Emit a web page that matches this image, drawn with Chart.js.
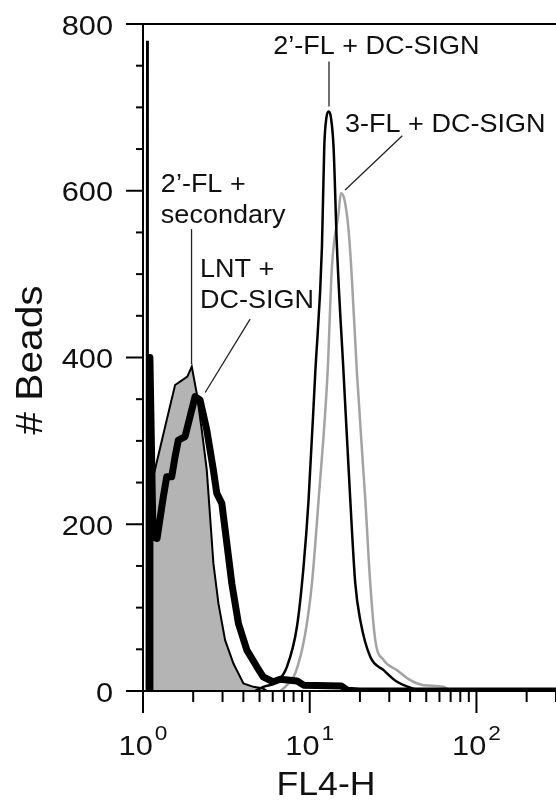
<!DOCTYPE html>
<html>
<head>
<meta charset="utf-8">
<script src="https://cdn.jsdelivr.net/npm/chart.js"></script>
<style>
  html, body { margin: 0; padding: 0; background: #fff; }
  #wrap { width: 556px; height: 800px; }
</style>
</head>
<body>
<div id="wrap"><canvas id="histChart" width="556" height="800"></canvas></div>
<script>
// FL4-H histogram: bead counts per fluorescence channel

// axis ranges and ticks
const xRange = [1, 300];
const yRange = [0, 800];
const xMajorTicks = [1, 10, 100];
const xMinorTicks = [2, 3, 4, 5, 6, 7, 8, 9, 20, 30, 40, 50, 60, 70, 80, 90, 200, 300];
const yMajorTicks = [0, 200, 400, 600, 800];
const yMinorTicks = [50, 100, 150, 250, 300, 350, 450, 500, 550, 650, 700, 750];
const xTickPowers = ['0', '1', '2'];

// 2'-FL + secondary (grey filled)
const secondaryX = [1.05, 1.057, 1.07, 1.153, 1.324, 1.557, 1.668, 1.845, 1.961, 2.101, 2.252, 2.413, 2.526, 2.644, 2.834, 3.108, 3.486, 4.004, 4.598, 5.25, 5.56];
const secondaryY = [0, 780, 260, 257, 308, 367, 371, 377, 389, 357, 313, 265, 209, 153, 105, 61, 33, 9, 5, 3, 0];

// LNT + DC-SIGN (thick black)
const lntX = [1.10, 1.10, 1.148, 1.214, 1.324, 1.388, 1.487, 1.557, 1.630, 1.787, 1.915, 2.053, 2.199, 2.413, 2.644, 2.771, 2.970, 3.183, 3.410, 3.736, 4.197, 4.819, 5.26, 6.04, 6.65, 8.4, 9.2, 15.5, 16.8, 20, 300];
const lntY = [0, 400, 185, 183, 233, 257, 257, 281, 301, 305, 329, 353, 349, 313, 265, 237, 225, 177, 129, 81, 49, 29, 17, 11, 14, 12, 7, 6, 1, 0, 0];

// 2'-FL + DC-SIGN (thin black)
const fl2X = [4.71, 5.28, 6.35, 7.30, 8.38, 9.18, 9.84, 10.79, 11.84, 12.22, 12.6, 13.0, 13.4, 13.9, 14.56, 15.96, 17.51, 18.76, 20.1, 23.07, 27.75, 33.4, 40.1, 46.1];
const fl2Y = [0, 5, 11, 29, 77, 149, 229, 381, 533, 652, 688, 695, 688, 652, 533, 381, 229, 129, 85, 41, 25, 11, 4, 0];

// 3-FL + DC-SIGN (grey line)
const fl3X = [6.65, 7.30, 8.18, 9.40, 10.31, 11.30, 12.79, 13.59, 14.89, 15.39, 16.12, 17.10, 17.92, 19.2, 21.55, 23.07, 24.73, 27.75, 33.4, 40.1, 48.2, 63.4, 69.8];
const fl3Y = [0, 7, 21, 69, 129, 229, 381, 509, 573, 597, 590, 553, 493, 381, 229, 129, 61, 37, 25, 13, 7, 5, 0];

// labels with leader lines, in data units
const annotations = [
    { lines: ["2\u2019-FL + DC-SIGN"], x: 6.04, y: 764, from: [13.05, 755], to: [13.05, 701] },
    { lines: ["3-FL + DC-SIGN"], x: 16.3, y: 670, from: [35.9, 666], to: [16.3, 601] },
    { lines: ["2\u2019-FL +", "secondary"], x: 1.28, y: 598, from: [1.955, 554], to: [1.955, 392] },
    { lines: ["LNT +", "DC-SIGN"], x: 2.20, y: 496, from: [4.39, 446], to: [2.36, 358] }
];

const FONT = '"Liberation Sans", Arial, sans-serif';
const TEXT_COLOR = '#111';
const STRETCH = 1.08;

function toPoints(xs, ys) {
    return xs.map((x, i) => ({ x: x, y: ys[i] }));
}

// draw text slightly widened, like the original figure
function drawText(ctx, s, x, y, size, align) {
    ctx.save();
    ctx.font = size + 'px ' + FONT;
    ctx.fillStyle = TEXT_COLOR;
    ctx.textBaseline = 'alphabetic';
    ctx.translate(x, y);
    ctx.scale(STRETCH, 1);
    ctx.textAlign = align;
    ctx.fillText(s, 0, 0);
    ctx.restore();
}

function textWidth(ctx, s, size) {
    ctx.save();
    ctx.font = size + 'px ' + FONT;
    const w = ctx.measureText(s).width * STRETCH;
    ctx.restore();
    return w;
}

function line(ctx, x1, y1, x2, y2, w) {
    ctx.beginPath();
    ctx.lineWidth = w;
    ctx.moveTo(x1, y1);
    ctx.lineTo(x2, y2);
    ctx.stroke();
}

// axes, ticks, titles and labels drawn from the chart scales
const axesPlugin = {
    id: 'axesPlugin',
    afterDatasetsDraw(chart) {
        const ctx = chart.ctx;
        const xs = chart.scales.x;
        const ys = chart.scales.y;
        const area = chart.chartArea;
        ctx.save();
        ctx.strokeStyle = '#000';
        ctx.lineCap = 'butt';

        // frame: left axis, bottom axis, top line
        line(ctx, area.left, area.top - 1, area.left, ys.getPixelForValue(0) + 22, 2);
        line(ctx, area.left - 17, ys.getPixelForValue(0), area.right, ys.getPixelForValue(0), 2);
        line(ctx, area.left - 17, area.top, area.right, area.top, 2);

        // y ticks
        yMajorTicks.forEach(v => {
            const py = ys.getPixelForValue(v);
            line(ctx, area.left - 17, py, area.left, py, 2);
            drawText(ctx, String(v), area.left - 30, py + 10.5, 28.5, 'right');
        });
        yMinorTicks.forEach(v => {
            const py = ys.getPixelForValue(v);
            line(ctx, area.left - 7, py, area.left, py, 2);
        });

        // x ticks
        const base = ys.getPixelForValue(0);
        xMajorTicks.forEach((v, i) => {
            const px = xs.getPixelForValue(v);
            line(ctx, px, base, px, base + 22, 2);
            const w1 = textWidth(ctx, '10', 28.5);
            const w2 = textWidth(ctx, xTickPowers[i], 21);
            const start = px - (w1 + 2 + w2) / 2;
            drawText(ctx, '10', start, base + 64, 28.5, 'left');
            drawText(ctx, xTickPowers[i], start + w1 + 2, base + 49, 21, 'left');
        });
        xMinorTicks.forEach(v => {
            const px = xs.getPixelForValue(v);
            if (px > area.right) return;
            line(ctx, px, base, px, base + 11, 2);
        });

        // axis titles
        drawText(ctx, 'FL4-H', 326, 795, 33, 'center');
        ctx.save();
        ctx.translate(42, 360);
        ctx.rotate(-Math.PI / 2);
        ctx.font = '37px ' + FONT;
        ctx.fillStyle = TEXT_COLOR;
        ctx.textAlign = 'center';
        ctx.scale(1.1, 1);
        ctx.fillText('# Beads', 0, 0);
        ctx.restore();

        // annotations
        annotations.forEach(a => {
            const tx = xs.getPixelForValue(a.x);
            const ty = ys.getPixelForValue(a.y);
            a.lines.forEach((s, k) => drawText(ctx, s, tx, ty + k * 31, 25, 'left'));
            ctx.strokeStyle = '#222';
            line(ctx, xs.getPixelForValue(a.from[0]), ys.getPixelForValue(a.from[1]),
                xs.getPixelForValue(a.to[0]), ys.getPixelForValue(a.to[1]), 1.3);
        });
        ctx.restore();
    }
};

document.addEventListener('DOMContentLoaded', () => {
    const ctx = document.getElementById('histChart').getContext('2d');
    new Chart(ctx, {
        type: 'line',
        data: {
            datasets: [
                {
                    label: 'LNT + DC-SIGN',
                    data: toPoints(lntX, lntY),
                    borderColor: '#000',
                    borderWidth: 7,
                    borderJoinStyle: 'round',
                    fill: false
                },
                {
                    label: "2'-FL + DC-SIGN",
                    data: toPoints(fl2X, fl2Y),
                    borderColor: '#000',
                    borderWidth: 2.5,
                    cubicInterpolationMode: 'monotone',
                    fill: false
                },
                {
                    label: '3-FL + DC-SIGN',
                    data: toPoints(fl3X, fl3Y),
                    borderColor: '#a3a3a3',
                    borderWidth: 2.5,
                    cubicInterpolationMode: 'monotone',
                    fill: false
                },
                {
                    label: "2'-FL + secondary",
                    data: toPoints(secondaryX, secondaryY),
                    borderColor: '#000',
                    borderWidth: 2,
                    backgroundColor: '#b4b4b4',
                    fill: 'origin'
                }
            ]
        },
        options: {
            responsive: false,
            animation: false,
            devicePixelRatio: 1,
            layout: { padding: { left: 143, top: 24, right: 0, bottom: 109 } },
            elements: {
                point: { radius: 0 },
                line: { tension: 0 }
            },
            scales: {
                x: { type: 'logarithmic', min: xRange[0], max: xRange[1], display: false },
                y: { type: 'linear', min: yRange[0], max: yRange[1], display: false }
            },
            plugins: {
                legend: { display: false },
                tooltip: { enabled: false }
            }
        },
        plugins: [axesPlugin]
    });
});
</script>
</body>
</html>
